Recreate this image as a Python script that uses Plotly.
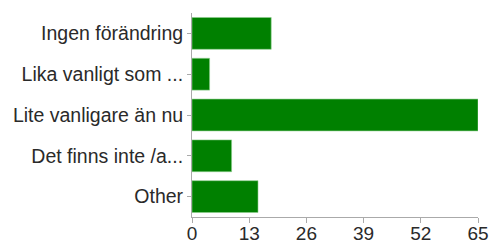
import plotly.graph_objects as go

categories = ["Ingen förändring", "Lika vanligt som ...", "Lite vanligare än nu", "Det finns inte /a...", "Other"]
values = [18, 4, 65, 9, 15]
tick_vals = [0, 13, 26, 39, 52, 65]

fig = go.Figure(go.Bar(
    x=values, y=categories, orientation="h",
    marker=dict(color="#008000", line=dict(color="#8fcf8f", width=0.6)),
))
fig.update_layout(
    width=492, height=244,
    margin=dict(l=192, r=14, t=13, b=27, autoexpand=False),
    paper_bgcolor="white", plot_bgcolor="white",
    font=dict(family="Liberation Sans, Arial, sans-serif", size=19.5, color="#2a2a2a"),
    bargap=0.22, showlegend=False,
)
fig.update_yaxes(autorange="reversed", showline=True, linecolor="#aaaaaa", linewidth=1,
                 ticks="outside", ticklen=4, tickcolor="#aaaaaa", showgrid=False, automargin=False)
fig.update_xaxes(range=[0, 65], tickvals=tick_vals, showline=True, linecolor="#aaaaaa", linewidth=1,
                 ticks="outside", ticklen=5, tickcolor="#aaaaaa", showgrid=False, zeroline=False,
                 automargin=False, ticklabelstandoff=-6, tickfont=dict(size=19))
fig.write_html("out.html", config={"displayModeBar": False},
               post_script="document.body.style.margin='0';document.body.style.overflow='hidden';")
